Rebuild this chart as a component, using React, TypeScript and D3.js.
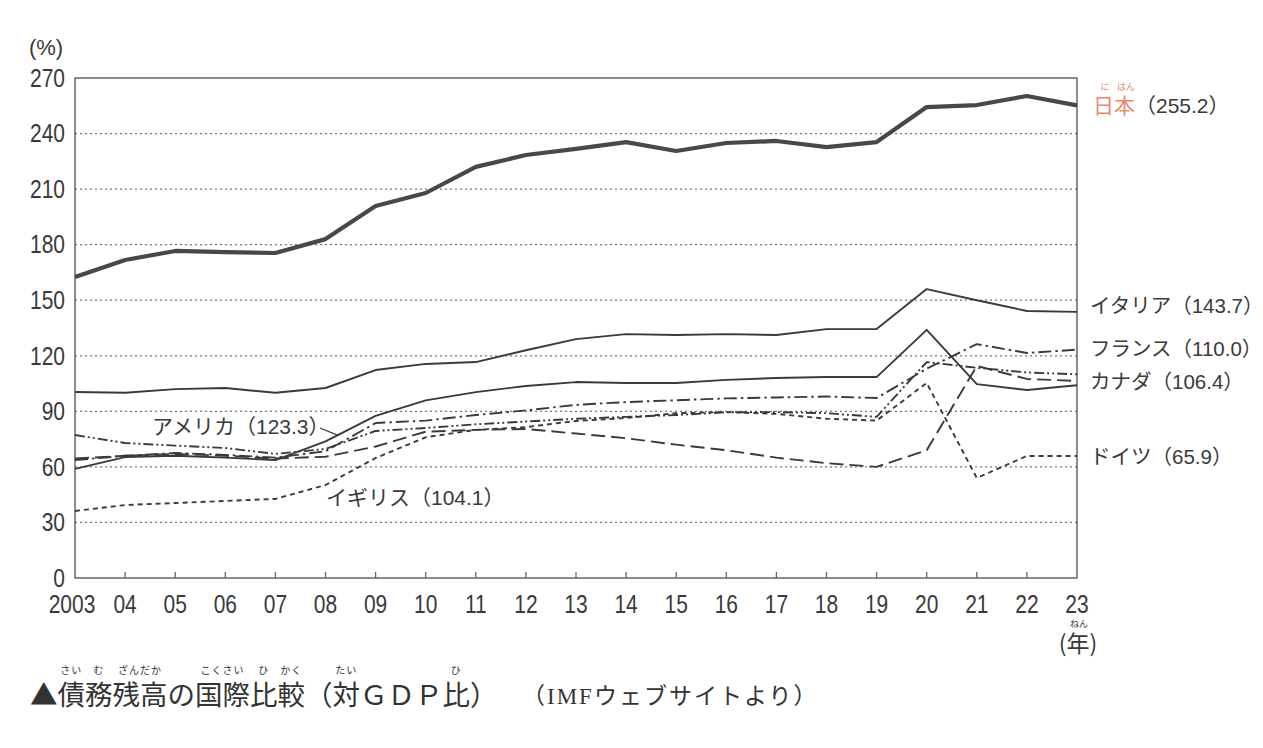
import React from 'react';
import * as d3 from 'd3';

const width = 1263;
const height = 748;

const years = [2003, 2004, 2005, 2006, 2007, 2008, 2009, 2010, 2011, 2012, 2013, 2014, 2015, 2016, 2017, 2018, 2019, 2020, 2021, 2022, 2023];
const yearLabels = ['2003', '04', '05', '06', '07', '08', '09', '10', '11', '12', '13', '14', '15', '16', '17', '18', '19', '20', '21', '22', '23'];
const yTicks = [0, 30, 60, 90, 120, 150, 180, 210, 240, 270];

// 債務残高（対GDP比, %）
const japan = [162.5, 171.7, 176.6, 176.0, 175.5, 183.0, 200.9, 207.9, 222.0, 228.4, 231.7, 235.4, 230.6, 234.9, 236.0, 232.7, 235.4, 254.3, 255.4, 260.3, 255.2];
const italy = [100.4, 100.0, 102.0, 102.6, 100.0, 102.6, 112.3, 115.6, 116.6, 123.0, 129.0, 131.7, 131.2, 131.7, 131.2, 134.4, 134.4, 156.0, 150.0, 144.2, 143.7];
const uk = [58.9, 65.3, 66.0, 65.0, 63.7, 73.8, 87.5, 95.9, 100.4, 103.7, 105.8, 105.3, 105.3, 107.0, 108.0, 108.5, 108.5, 134.0, 104.7, 101.5, 104.1];
const usa = [63.7, 66.0, 67.5, 66.5, 65.0, 68.5, 83.7, 85.0, 88.0, 90.5, 93.5, 95.0, 96.0, 97.0, 97.5, 98.0, 97.2, 113.0, 126.3, 121.5, 123.3];
const france = [77.2, 72.9, 71.5, 70.2, 67.0, 69.7, 79.4, 81.0, 83.0, 84.5, 86.0, 87.0, 88.0, 89.5, 89.6, 89.0, 87.0, 116.6, 113.5, 111.0, 110.0];
const canada = [64.5, 66.0, 67.0, 66.0, 64.5, 65.5, 71.0, 79.0, 80.0, 80.5, 78.0, 75.5, 72.0, 69.0, 65.0, 62.0, 60.0, 69.0, 114.5, 107.5, 106.4];
const germany = [36.2, 39.4, 40.5, 41.6, 42.7, 50.2, 64.8, 76.0, 80.0, 81.5, 84.8, 86.4, 89.0, 89.6, 88.6, 86.0, 85.0, 105.3, 54.0, 65.9, 65.9];

const series = [
  { values: japan, width: 4.2, dash: null },
  { values: italy, width: 1.9, dash: null },
  { values: uk, width: 1.9, dash: null },
  { values: usa, width: 1.9, dash: '13,4,2.5,4' },
  { values: france, width: 1.9, dash: '10,3,2,3,2,3' },
  { values: canada, width: 1.9, dash: '14,6' },
  { values: germany, width: 1.9, dash: '5,4' },
];

// label text and the value level it sits at
const rightLabels = [
  { text: 'イタリア（143.7）', value: 147.5 },
  { text: 'フランス（110.0）', value: 124 },
  { text: 'カナダ（106.4）', value: 106.4 },
  { text: 'ドイツ（65.9）', value: 65.9 },
];

const captionMain = '▲債務残高の国際比較（対ＧＤＰ比）';
const captionSource = '（IMFウェブサイトより）';
// ruby: [char index in captionMain, count of chars covered, reading]
const captionRuby: [number, number, string][] = [
  [1, 1, 'さい'], [2, 1, 'む'], [3, 2, 'ざんだか'],
  [6, 2, 'こくさい'], [8, 1, 'ひ'], [9, 1, 'かく'],
  [11, 1, 'たい'], [15, 1, 'ひ'],
];

const x = d3.scaleLinear().domain([2003, 2023]).range([75, 1077]);
const y = d3.scaleLinear().domain([0, 270]).range([578, 78]);

const lineGen = d3.line<number>()
  .x((d, i) => x(years[i]))
  .y(d => y(d));

const ink = '#3a3a3a';
const salmon = '#e8876d';
const numFont = "'Liberation Sans', Arial, sans-serif";
const labelFont = "'Liberation Sans', 'Noto Sans CJK JP', sans-serif";
const jpFont = "'Noto Sans CJK JP', sans-serif";
const serifFont = "'Liberation Serif', 'Noto Sans CJK JP', serif";

const capX = 30;
const capSize = 27.5;

const App = () => {
  return (
    <svg width={width} height={height} style={{ position: 'absolute', left: 0, top: 0, background: '#fff' }}>
      <rect width={width} height={height} fill="#fff" />

      {/* dotted gridlines */}
      {yTicks.filter(t => t > 0 && t < 270).map(t => (
        <line key={t} x1={x(2003)} x2={x(2023)} y1={y(t)} y2={y(t)}
          stroke="#777" strokeWidth={1.2} strokeDasharray="2,3" />
      ))}

      {/* frame */}
      <rect x={x(2003)} y={y(270)} width={x(2023) - x(2003)} height={y(0) - y(270)}
        fill="none" stroke="#666" strokeWidth={1.5} />

      {/* x ticks */}
      {years.slice(1, -1).map(yr => (
        <line key={yr} x1={x(yr)} x2={x(yr)} y1={y(0)} y2={y(0) - 6} stroke="#666" strokeWidth={1.3} />
      ))}

      {yTicks.map(t => (
        <text key={t} transform={`translate(65,${y(t)}) scale(0.84,1)`} dy="0.35em" textAnchor="end"
          fontFamily={numFont} fontSize={25} fill={ink}>{t}</text>
      ))}
      <text x={46} y={55} textAnchor="middle" fontFamily={labelFont} fontSize={22} fill={ink}>(%)</text>

      {yearLabels.map((lab, i) => (
        <text key={lab} transform={`translate(${x(years[i]) - (i === 0 ? 3 : 0)},613) scale(0.84,1)`}
          textAnchor="middle" fontFamily={numFont} fontSize={25} fill={ink}>{lab}</text>
      ))}
      <text x={1079} y={627} textAnchor="middle" fontFamily={jpFont} fontSize={9} fill={ink}>ねん</text>
      <text x={1078} y={652} textAnchor="middle" fontFamily={jpFont} fontSize={23} fill={ink}>(年)</text>

      {/* series */}
      {series.map((s, i) => (
        <path key={i} d={lineGen(s.values) || ''} fill="none" stroke={i === 0 ? '#484848' : ink}
          strokeWidth={s.width} strokeDasharray={s.dash || undefined} strokeLinejoin="round" />
      ))}

      {/* right-hand labels */}
      <text x={1105} y={90} textAnchor="middle" fontFamily={jpFont} fontSize={9} fill={salmon}>に</text>
      <text x={1126} y={90} textAnchor="middle" fontFamily={jpFont} fontSize={9} fill={salmon}>はん</text>
      <text x={1093} y={y(255.2) + 8} fontFamily={labelFont} fontSize={21} fill={ink}>
        <tspan fill={salmon} fontFamily={jpFont}>日本</tspan>（255.2）
      </text>
      {rightLabels.map(l => (
        <text key={l.text} x={1090} y={y(l.value) + 8} fontFamily={labelFont} fontSize={20.5} fill={ink}>{l.text}</text>
      ))}

      {/* inline labels */}
      <text x={152} y={y(82) + 8} fontFamily={labelFont} fontSize={21} fill={ink}>アメリカ（123.3）</text>
      <line x1={320} y1={y(81)} x2={x(2008.25)} y2={y(77)} stroke={ink} strokeWidth={1.2} />
      <text x={326} y={y(44) + 8} fontFamily={labelFont} fontSize={21} fill={ink}>イギリス（104.1）</text>

      {/* caption */}
      <g fontFamily={jpFont} fill="#333">
        {captionRuby.map(([idx, n, r]) => (
          <text key={idx} x={capX + capSize * (idx + n / 2)} y={674} textAnchor="middle"
            fontSize={10} letterSpacing={1}>{r}</text>
        ))}
        <text x={capX} y={705} fontSize={capSize}>{captionMain}</text>
        <text x={522} y={704} fontFamily={serifFont} fontSize={23} letterSpacing={2}>{captionSource}</text>
      </g>
    </svg>
  );
};

export default App;
